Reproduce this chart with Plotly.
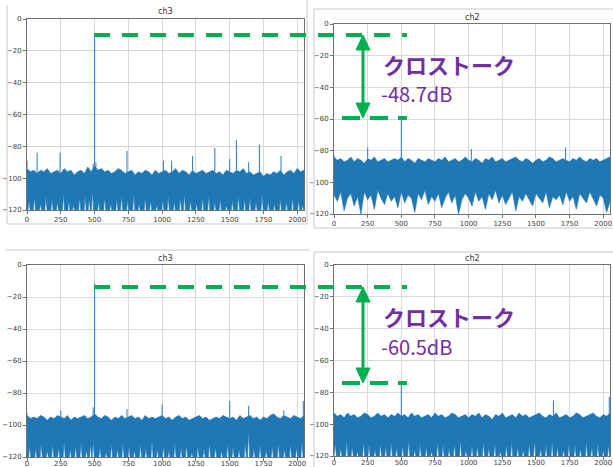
import numpy as np
import plotly.graph_objects as go

W, H = 613, 467

# ---------------- data ----------------
NOISE_BINS = list(range(0, 2051, 25))
X_TICKS = [0, 250, 500, 750, 1000, 1250, 1500, 1750, 2000]
Y_TICKS = [0, -20, -40, -60, -80, -100, -120]

# top-left : ch3 (before)
P1_TOP = [-94, -96, -95, -97, -95, -96, -94, -97, -96, -95,
          -97, -94, -96, -95, -98, -96, -95, -97, -93, -96,
          -92, -95, -94, -96, -95, -97, -96, -94, -95, -97,
          -96, -95, -98, -96, -97, -95, -96, -98, -95, -97,
          -96, -95, -97, -96, -94, -97, -95, -96, -98, -95,
          -97, -96, -95, -97, -96, -95, -97, -96, -98, -95,
          -96, -97, -95, -96, -94, -97, -96, -98, -97, -96,
          -99, -97, -98, -96, -97, -95, -98, -96, -95, -97,
          -94, -96, -95]
P1_GAP_BINS = [15, 55, 100, 140, 185, 225, 270, 310, 345, 390,
               430, 460, 485, 530, 575, 620, 665, 700, 745, 790,
               830, 875, 915, 960, 1005, 1045, 1090, 1135, 1165, 1210,
               1255, 1300, 1345, 1390, 1430, 1475, 1520, 1565, 1610, 1650,
               1695, 1740, 1785, 1830, 1875, 1920, 1965, 2010, 2040]
P1_GAP_DB = [-114, -112, -116, -111, -113, -115, -110, -114, -117, -112,
             -111, -113, -108, -115, -112, -116, -113, -111, -114, -110,
             -116, -112, -114, -117, -113, -111, -115, -112, -110, -114,
             -116, -112, -111, -115, -113, -117, -114, -111, -113, -112,
             -115, -110, -114, -116, -113, -115, -112, -114, -117]
P1_SPIKE_BINS = [0, 75, 245, 490, 500, 510, 740, 1010, 1070, 1225, 1390, 1500, 1550, 1640, 1720, 1880]
P1_SPIKE_DB = [-89, -84, -84, -91, -10, -90, -83, -89, -89, -86, -81, -88, -76, -90, -79, -86]

# top-right : ch2 (before)
P2_TOP = [-84, -86, -85, -87, -86, -84, -87, -85, -86, -88,
          -85, -86, -84, -87, -86, -85, -87, -86, -85, -86,
          -84, -87, -85, -86, -88, -85, -86, -87, -85, -86,
          -87, -85, -86, -84, -87, -86, -85, -87, -86, -84,
          -86, -87, -85, -86, -88, -85, -86, -84, -87, -86,
          -85, -87, -86, -85, -84, -86, -87, -85, -86, -88,
          -86, -85, -87, -86, -84, -85, -87, -86, -85, -86,
          -87, -85, -86, -84, -86, -87, -85, -86, -85, -87,
          -86, -85, -84]
P2_BOTTOM = [-108, -112, -106, -118, -110, -107, -115, -109, -120, -106,
             -111, -108, -117, -105, -110, -114, -107, -112, -109, -116,
             -106, -113, -108, -110, -119, -107, -111, -105, -114, -109,
             -112, -107, -116, -110, -106, -113, -108, -120, -111, -107,
             -110, -115, -106, -112, -109, -117, -107, -111, -105, -113,
             -108, -114, -110, -106, -118, -109, -112, -107, -111, -115,
             -107, -110, -113, -106, -116, -109, -111, -108, -114, -106,
             -112, -109, -117, -107, -110, -113, -106, -111, -115, -108,
             -110, -119, -112]
P2_SPIKE_BINS = [0, 250, 500, 1020, 1720]
P2_SPIKE_DB = [-83, -78, -59, -79, -78]

# bottom-left : ch3 (after)
P3_TOP = [-94, -96, -95, -96, -94, -95, -97, -95, -96, -94,
          -95, -96, -94, -97, -95, -96, -95, -94, -96, -95,
          -93, -95, -96, -94, -95, -97, -95, -96, -94, -96,
          -95, -94, -96, -95, -97, -94, -96, -95, -96, -95,
          -94, -96, -95, -97, -95, -94, -96, -95, -97, -96,
          -95, -94, -96, -95, -97, -96, -95, -96, -94, -95,
          -96, -95, -97, -94, -96, -95, -94, -96, -95, -97,
          -95, -96, -94, -93, -95, -96, -94, -95, -96, -94,
          -95, -96, -94]
P3_GAP_BINS = [20, 65, 105, 150, 190, 235, 275, 320, 360, 400,
               440, 470, 490, 540, 585, 625, 670, 710, 755, 795,
               840, 880, 925, 965, 1010, 1050, 1095, 1140, 1180, 1220,
               1265, 1310, 1350, 1395, 1440, 1485, 1525, 1570, 1615, 1640,
               1680, 1725, 1770, 1815, 1860, 1905, 1950, 1995, 2035]
P3_GAP_DB = [-113, -115, -111, -116, -112, -114, -110, -115, -113, -111,
             -116, -112, -110, -114, -117, -112, -115, -111, -113, -116,
             -112, -114, -110, -115, -113, -116, -111, -114, -112, -117,
             -113, -115, -111, -114, -116, -112, -113, -115, -111, -103,
             -114, -112, -116, -113, -111, -115, -112, -114, -110]
P3_SPIKE_BINS = [0, 250, 490, 500, 740, 1000, 1500, 1640, 1900, 2045]
P3_SPIKE_DB = [-93, -91, -89, -11.5, -90, -87, -85, -88, -91, -85]

# bottom-right : ch2 (after)
P4_TOP = [-93, -95, -94, -96, -93, -95, -94, -96, -95, -93,
          -94, -96, -95, -93, -95, -94, -96, -94, -95, -93,
          -95, -94, -96, -93, -95, -94, -96, -95, -94, -96,
          -93, -95, -94, -96, -95, -93, -94, -96, -95, -94,
          -96, -94, -95, -93, -96, -94, -95, -97, -94, -95,
          -93, -96, -95, -94, -96, -93, -95, -94, -96, -95,
          -94, -93, -95, -96, -94, -95, -93, -96, -95, -94,
          -96, -95, -93, -94, -96, -95, -94, -93, -95, -96,
          -94, -95, -93]
P4_GAP_BINS = [10, 50, 95, 135, 175, 220, 260, 305, 345, 385,
               425, 465, 510, 555, 600, 640, 685, 725, 770, 810,
               855, 895, 940, 980, 1025, 1065, 1110, 1150, 1195, 1235,
               1280, 1320, 1365, 1405, 1450, 1490, 1535, 1575, 1620, 1660,
               1705, 1745, 1790, 1830, 1875, 1915, 1960, 2000, 2040]
P4_GAP_DB = [-112, -115, -110, -114, -117, -111, -113, -116, -112, -114,
             -111, -115, -113, -110, -116, -112, -114, -117, -111, -113,
             -115, -112, -110, -116, -113, -114, -111, -115, -112, -117,
             -113, -111, -114, -116, -112, -110, -115, -113, -111, -114,
             -116, -112, -113, -115, -111, -114, -112, -116, -113]
P4_SPIKE_BINS = [500, 1630, 2045]
P4_SPIKE_DB = [-74, -85, -83]

TITLES = ["ch3", "ch2", "ch3", "ch2"]
CROSSTALK_LABEL = "クロストーク"
CROSSTALK_VALUES = ["-48.7dB", "-60.5dB"]

# ---------------- styling / layout ----------------
BLUE = "#1f77b4"
SPIKE = "#3a86c2"
GREEN = "#00b050"
PURPLE = "#7030a0"
FLOOR = -120
GAP_HALF = 8


def X(px):
    return px / W


def Y(py):
    return 1 - py / H


panels = [
    dict(top=P1_TOP, bottom=None, gaps=(P1_GAP_BINS, P1_GAP_DB), spikes=(P1_SPIKE_BINS, P1_SPIKE_DB),
         xd=(27, 304), yd=(19, 210), title_xy=(165, 12), standoff=0),
    dict(top=P2_TOP, bottom=P2_BOTTOM, gaps=None, spikes=(P2_SPIKE_BINS, P2_SPIKE_DB),
         xd=(334, 610), yd=(24, 214), title_xy=(472, 17), standoff=0),
    dict(top=P3_TOP, bottom=None, gaps=(P3_GAP_BINS, P3_GAP_DB), spikes=(P3_SPIKE_BINS, P3_SPIKE_DB),
         xd=(27, 304), yd=(265, 457), title_xy=(165, 258), standoff=-3),
    dict(top=P4_TOP, bottom=None, gaps=(P4_GAP_BINS, P4_GAP_DB), spikes=(P4_SPIKE_BINS, P4_SPIKE_DB),
         xd=(334, 610), yd=(265, 456), title_xy=(472, 258), standoff=-3),
]

fig = go.Figure()
layout = dict(width=W, height=H, margin=dict(l=0, r=0, t=0, b=0, autoexpand=False),
              paper_bgcolor="white", plot_bgcolor="white", showlegend=False)
annotations = []
shapes = []

for i, p in enumerate(panels):
    n = "" if i == 0 else str(i + 1)
    xa, ya = "x" + n, "y" + n

    # bottom edge of the noise band
    if p["bottom"] is not None:
        bx = list(NOISE_BINS)
        by = list(p["bottom"])
    else:
        bx, by = [NOISE_BINS[0]], [FLOOR]
        for gb, gd in zip(*p["gaps"]):
            bx += [gb - GAP_HALF, gb, gb + GAP_HALF]
            by += [FLOOR, gd, FLOOR]
        bx.append(NOISE_BINS[-1])
        by.append(FLOOR)
    px_ = list(NOISE_BINS) + bx[::-1]
    py_ = list(p["top"]) + by[::-1]
    fig.add_trace(go.Scatter(x=px_, y=py_, fill="toself", fillcolor=BLUE, mode="lines",
                             line=dict(color=BLUE, width=0.6), xaxis=xa, yaxis=ya,
                             hoverinfo="skip"))

    # spikes
    sx, sy = [], []
    for b, d in zip(*p["spikes"]):
        base = float(np.interp(b, NOISE_BINS, p["top"]))
        sx += [b, b, None]
        sy += [base, d, None]
    fig.add_trace(go.Scatter(x=sx, y=sy, mode="lines", line=dict(color=SPIKE, width=1.1),
                             xaxis=xa, yaxis=ya, hoverinfo="skip"))

    axis_common = dict(showgrid=True, gridcolor="#d9d9d9", gridwidth=1, zeroline=False,
                       showline=True, linecolor="#707070", linewidth=1, mirror=True,
                       ticks="outside", ticklen=3, tickcolor="#707070", automargin=False,
                       tickfont=dict(family="DejaVu Sans", size=7, color="#404040"))
    layout["xaxis" + n] = dict(axis_common, domain=[X(p["xd"][0]), X(p["xd"][1])],
                               range=[0, 2050], tickvals=X_TICKS, anchor=ya,
                               ticklabelstandoff=p["standoff"])
    layout["yaxis" + n] = dict(axis_common, domain=[Y(p["yd"][1]), Y(p["yd"][0])],
                               range=[-120, 0], tickvals=Y_TICKS, anchor=xa)

    tx, ty = p["title_xy"]
    annotations.append(dict(text=TITLES[i], x=X(tx), y=Y(ty), xref="paper", yref="paper",
                            showarrow=False, xanchor="center", yanchor="middle",
                            font=dict(family="DejaVu Sans", size=8, color="#333333")))

# light frames of the pasted screenshots
FRAME = dict(color="#c8c8c8", width=1)
for (x0, y0, x1, y1) in [(7, 5, 7, 224), (7, 224, 307, 224), (307, 0, 307, 224),
                         (314, 9, 613, 9), (314, 9, 314, 228), (314, 228, 613, 228),
                         (5, 250, 309, 250),
                         (314, 252, 613, 252), (314, 252, 314, 467)]:
    shapes.append(dict(type="line", xref="paper", yref="paper", x0=X(x0), y0=Y(y0),
                       x1=X(x1), y1=Y(y1), line=FRAME))

# green dashed reference lines, arrows and labels
for k, (ytop, ybot) in enumerate([(35, 118), (287, 383)]):
    shapes.append(dict(type="line", xref="paper", yref="paper", x0=X(94), y0=Y(ytop),
                       x1=X(407), y1=Y(ytop), line=dict(color=GREEN, width=4, dash="16px,12px")))
    shapes.append(dict(type="line", xref="paper", yref="paper", x0=X(342), y0=Y(ybot),
                       x1=X(407), y1=Y(ybot), line=dict(color=GREEN, width=4, dash="18px,10px")))
    ax = 363
    shapes.append(dict(type="line", xref="paper", yref="paper", x0=X(ax), y0=Y(ytop + 12),
                       x1=X(ax), y1=Y(ybot - 12), line=dict(color=GREEN, width=3)))
    up = f"M {X(ax - 7)},{Y(ytop + 15)} L {X(ax)},{Y(ytop)} L {X(ax + 7)},{Y(ytop + 15)} Z"
    dn = f"M {X(ax - 7)},{Y(ybot - 15)} L {X(ax)},{Y(ybot)} L {X(ax + 7)},{Y(ybot - 15)} Z"
    for path in (up, dn):
        shapes.append(dict(type="path", xref="paper", yref="paper", path=path,
                           fillcolor=GREEN, line=dict(color=GREEN, width=1)))
    annotations.append(dict(text=f"<b>{CROSSTALK_LABEL}</b>", x=X(381), y=Y(ytop + 29),
                            xref="paper", yref="paper", showarrow=False,
                            xanchor="left", yanchor="middle",
                            font=dict(family="Noto Sans CJK JP", size=22, color=PURPLE)))
    annotations.append(dict(text=CROSSTALK_VALUES[k], x=X(379), y=Y(ytop + 59),
                            xref="paper", yref="paper", showarrow=False,
                            xanchor="left", yanchor="middle",
                            font=dict(family="Noto Sans CJK JP", size=20, color=PURPLE)))

layout["annotations"] = annotations
layout["shapes"] = shapes
fig.update_layout(**layout)
fig.write_html("out.html", config={"displayModeBar": False},
               post_script="document.body.style.margin='0px';document.body.style.overflow='hidden';")
